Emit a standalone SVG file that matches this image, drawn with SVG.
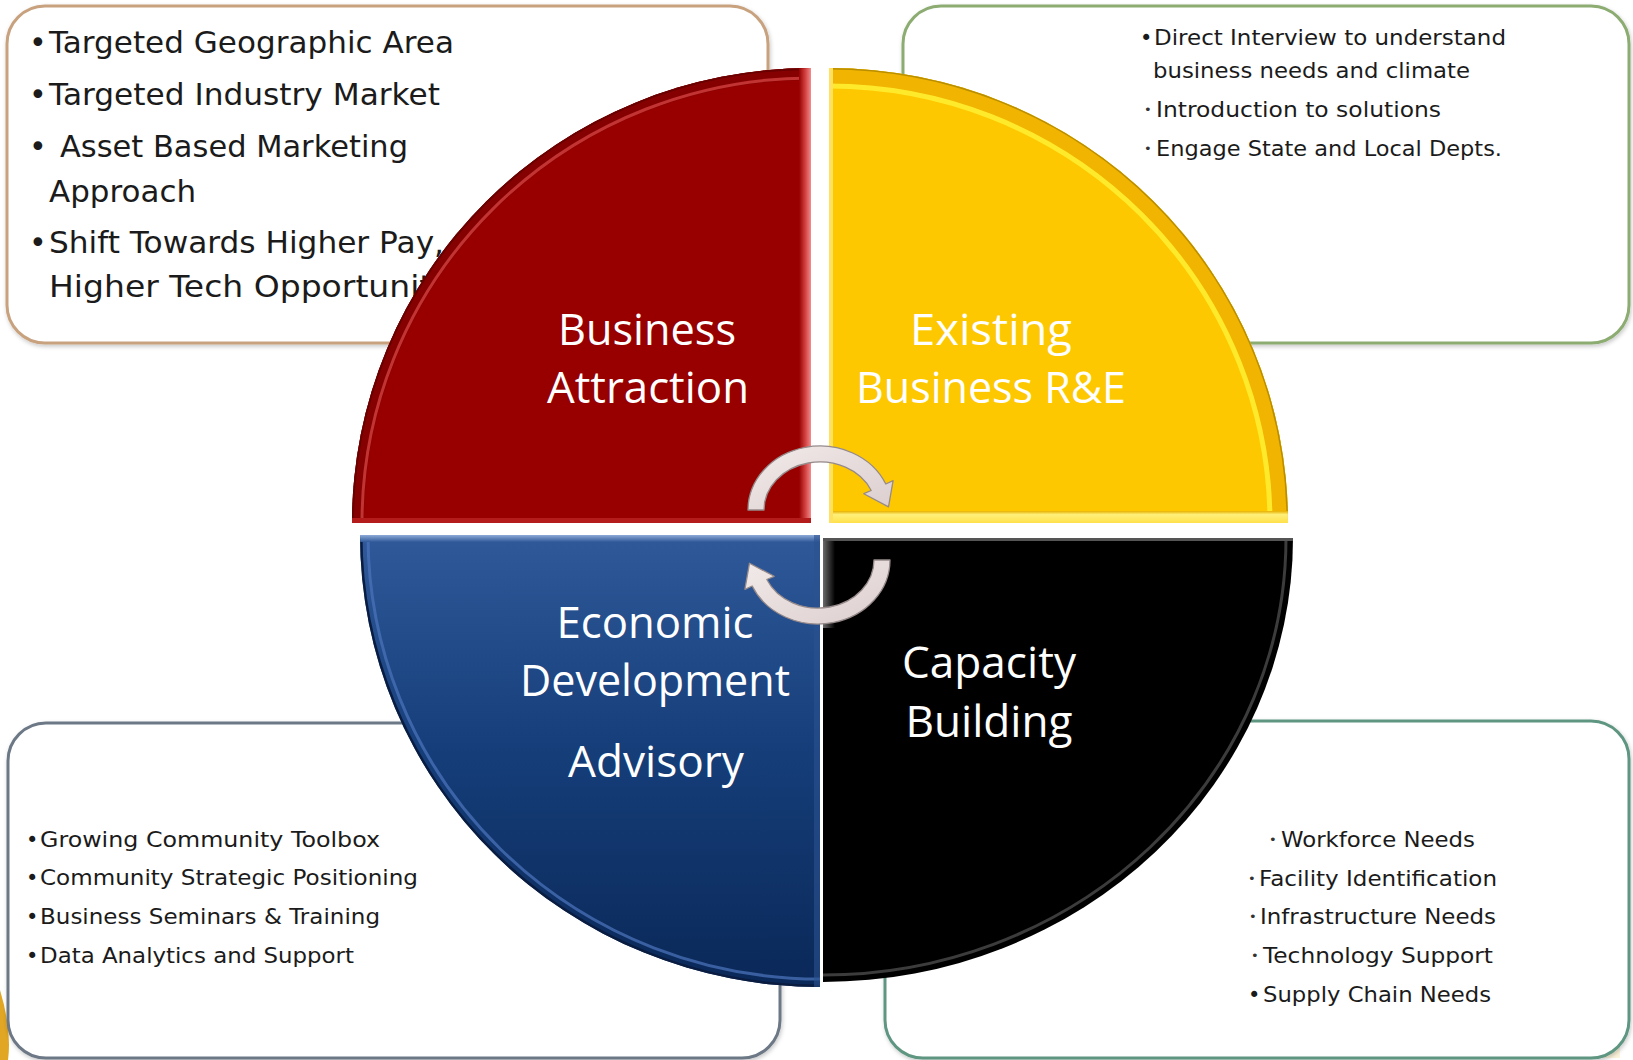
<svg xmlns="http://www.w3.org/2000/svg" width="1633" height="1060" viewBox="0 0 1633 1060">
  <defs>
    <style>
      .box { fill: #ffffff; stroke-width: 3; filter: url(#soft); }
      .item { font-family: "DejaVu Sans", "Liberation Sans", sans-serif; fill: #1b1b1b; }
      .big { font-size: 30px; }
      .small { font-size: 21px; }
      .dot { font-family: "DejaVu Sans", "Liberation Sans", sans-serif; fill: #333; font-size: 13px; }
      .label { font-family: "Open Sans", "Noto Sans", sans-serif; font-size: 44px; fill: #ffffff; text-anchor: middle; }
      .arrow { fill: url(#arrowFill); stroke: #968a8a; stroke-width: 1.3; stroke-linejoin: round; }
    </style>

    <filter id="soft" x="-5%" y="-5%" width="110%" height="110%">
      <feDropShadow dx="1" dy="2" stdDeviation="2" flood-color="#000" flood-opacity="0.22"/>
    </filter>

    <!-- quarter shapes -->
    <path id="qRed" d="M811,523 L352,523 A459 455 0 0 1 811,68 Z"/>
    <path id="qYellow" d="M829,523 L829,68 A459 455 0 0 1 1288,523 Z"/>
    <path id="qBlue" d="M820,535 L820,987 A460 452 0 0 1 360,535 Z"/>
    <path id="qBlack" d="M823,538 L1293,538 A470 444 0 0 1 823,982 Z"/>

    <clipPath id="cRed"><use href="#qRed"/></clipPath>
    <clipPath id="cYellow"><use href="#qYellow"/></clipPath>
    <clipPath id="cBlue"><use href="#qBlue"/></clipPath>
    <clipPath id="cBlack"><use href="#qBlack"/></clipPath>

    <linearGradient id="redEdge" x1="0" y1="0" x2="1" y2="0">
      <stop offset="0" stop-color="#980000"/>
      <stop offset="0.55" stop-color="#d44444"/>
      <stop offset="1" stop-color="#f28c8c"/>
    </linearGradient>
    <linearGradient id="blueFill" x1="0" y1="0" x2="0" y2="1">
      <stop offset="0" stop-color="#30599a"/>
      <stop offset="0.45" stop-color="#163f7b"/>
      <stop offset="1" stop-color="#0a2858"/>
    </linearGradient>
    <linearGradient id="blueTop" x1="0" y1="0" x2="0" y2="1">
      <stop offset="0" stop-color="#8eaad8"/>
      <stop offset="1" stop-color="#30599a"/>
    </linearGradient>
    <linearGradient id="yellowBottom" x1="0" y1="0" x2="0" y2="1">
      <stop offset="0" stop-color="#e6b000"/>
      <stop offset="0.3" stop-color="#fff07a"/>
      <stop offset="1" stop-color="#ffe04a"/>
    </linearGradient>
    <linearGradient id="blackEdge" x1="0" y1="0" x2="1" y2="0">
      <stop offset="0" stop-color="#6a6a6a"/>
      <stop offset="1" stop-color="#000000"/>
    </linearGradient>
    <linearGradient id="arrowFill" x1="0" y1="0" x2="1" y2="1">
      <stop offset="0" stop-color="#f2eaea"/>
      <stop offset="1" stop-color="#dccece"/>
    </linearGradient>
  </defs>

  <rect width="1633" height="1060" fill="#ffffff"/>

  <!-- slide remnants in the lower corners -->
  <path d="M0,990 Q12,1030 8,1060 L0,1060 Z" fill="#e0a624"/>
  <path d="M12,1000 L240,1050 L240,1058 L12,1010 Z" fill="#e6e6ea" opacity="0.8"/>
  <rect x="1516" y="1004" width="104" height="54" fill="#fdf4dc"/>

  <!-- text boxes -->
  <g id="box-attraction">
    <rect class="box" x="7" y="6" width="761" height="337" rx="38" stroke="#c8a27e"/>
    <text class="item big" x="29" y="53">•</text>
    <text class="item big" x="49" y="53" textLength="405" lengthAdjust="spacingAndGlyphs">Targeted Geographic Area</text>
    <text class="item big" x="29" y="105">•</text>
    <text class="item big" x="49" y="105" textLength="391" lengthAdjust="spacingAndGlyphs">Targeted Industry Market</text>
    <text class="item big" x="29" y="157">•</text>
    <text class="item big" x="60" y="157" textLength="348" lengthAdjust="spacingAndGlyphs">Asset Based Marketing</text>
    <text class="item big" x="49" y="202" textLength="147" lengthAdjust="spacingAndGlyphs">Approach</text>
    <text class="item big" x="29" y="253">•</text>
    <text class="item big" x="49" y="253" textLength="395" lengthAdjust="spacingAndGlyphs">Shift Towards Higher Pay,</text>
    <text class="item big" x="49" y="297" textLength="430" lengthAdjust="spacingAndGlyphs">Higher Tech Opportunities</text>
  </g>

  <g id="box-retention">
    <rect class="box" x="903" y="6" width="726" height="337" rx="38" stroke="#8cac72"/>
    <text class="item small" x="1140" y="45">•</text>
    <text class="item small" x="1154" y="45" textLength="352" lengthAdjust="spacingAndGlyphs">Direct Interview to understand</text>
    <text class="item small" x="1153" y="78" textLength="317" lengthAdjust="spacingAndGlyphs">business needs and climate</text>
    <text class="dot" x="1144" y="114">•</text>
    <text class="item small" x="1156" y="117" textLength="285" lengthAdjust="spacingAndGlyphs">Introduction to solutions</text>
    <text class="dot" x="1144" y="153">•</text>
    <text class="item small" x="1156" y="156" textLength="346" lengthAdjust="spacingAndGlyphs">Engage State and Local Depts.</text>
  </g>

  <g id="box-advisory">
    <rect class="box" x="8" y="723" width="772" height="335" rx="38" stroke="#6d7886"/>
    <text class="item small" x="26" y="847">•</text>
    <text class="item small" x="40" y="847" textLength="340" lengthAdjust="spacingAndGlyphs">Growing Community Toolbox</text>
    <text class="item small" x="26" y="885">•</text>
    <text class="item small" x="40" y="885" textLength="378" lengthAdjust="spacingAndGlyphs">Community Strategic Positioning</text>
    <text class="item small" x="26" y="924">•</text>
    <text class="item small" x="40" y="924" textLength="340" lengthAdjust="spacingAndGlyphs">Business Seminars &amp; Training</text>
    <text class="item small" x="26" y="963">•</text>
    <text class="item small" x="40" y="963" textLength="314" lengthAdjust="spacingAndGlyphs">Data Analytics and Support</text>
  </g>

  <g id="box-capacity">
    <rect class="box" x="885" y="721" width="744" height="337" rx="38" stroke="#5f9682"/>
    <text class="dot" x="1269" y="844">•</text>
    <text class="item small" x="1281" y="847" textLength="194" lengthAdjust="spacingAndGlyphs">Workforce Needs</text>
    <text class="dot" x="1248" y="883">•</text>
    <text class="item small" x="1259" y="886" textLength="238" lengthAdjust="spacingAndGlyphs">Facility Identification</text>
    <text class="dot" x="1249" y="921">•</text>
    <text class="item small" x="1260" y="924" textLength="236" lengthAdjust="spacingAndGlyphs">Infrastructure Needs</text>
    <text class="dot" x="1251" y="960">•</text>
    <text class="item small" x="1263" y="963" textLength="230" lengthAdjust="spacingAndGlyphs">Technology Support</text>
    <text class="item small" x="1248" y="1002">•</text>
    <text class="item small" x="1263" y="1002" textLength="228" lengthAdjust="spacingAndGlyphs">Supply Chain Needs</text>
  </g>

  <!-- the four quarters of the cycle -->
  <g id="business-attraction">
    <use href="#qRed" fill="#980000"/>
    <g clip-path="url(#cRed)" fill="none">
      <ellipse cx="811" cy="523" rx="459" ry="455" stroke="#850000" stroke-width="24"/>
      <ellipse cx="811" cy="523" rx="449" ry="445" stroke="#cc3c3c" stroke-width="3" opacity="0.85"/>
      <ellipse cx="811" cy="523" rx="459" ry="455" stroke="#680000" stroke-width="4"/>
      <rect x="799" y="60" width="12" height="470" fill="url(#redEdge)"/>
      <rect x="352" y="518" width="460" height="5" fill="#b41c1c"/>
    </g>
    <text class="label" x="647" y="345" textLength="178" lengthAdjust="spacingAndGlyphs">Business</text>
    <text class="label" x="648" y="403" textLength="202" lengthAdjust="spacingAndGlyphs">Attraction</text>
  </g>

  <g id="existing-business">
    <use href="#qYellow" fill="#fdc800"/>
    <g clip-path="url(#cYellow)" fill="none">
      <ellipse cx="829" cy="523" rx="459" ry="455" stroke="#f1b400" stroke-width="40"/>
      <ellipse cx="829" cy="523" rx="441" ry="437" stroke="#fff030" stroke-width="5" opacity="0.9"/>
      <ellipse cx="829" cy="523" rx="459" ry="455" stroke="#b88e00" stroke-width="3"/>
      <rect x="829" y="511" width="460" height="12" fill="url(#yellowBottom)"/>
      <rect x="829" y="60" width="4" height="463" fill="#ffe060"/>
    </g>
    <text class="label" x="991" y="345" textLength="162" lengthAdjust="spacingAndGlyphs">Existing</text>
    <text class="label" x="991" y="403" textLength="270" lengthAdjust="spacingAndGlyphs">Business R&amp;E</text>
  </g>

  <g id="economic-development">
    <use href="#qBlue" fill="url(#blueFill)"/>
    <g clip-path="url(#cBlue)" fill="none">
      <ellipse cx="820" cy="535" rx="452" ry="444" stroke="#4a72b8" stroke-width="3" opacity="0.75"/>
      <ellipse cx="820" cy="535" rx="460" ry="452" stroke="#0a1c40" stroke-width="5"/>
      <rect x="355" y="535" width="470" height="7" fill="url(#blueTop)"/>
      <rect x="814" y="535" width="6" height="455" fill="#2c5290" opacity="0.6"/>
    </g>
    <text class="label" x="655" y="638" textLength="197" lengthAdjust="spacingAndGlyphs">Economic</text>
    <text class="label" x="655" y="696" textLength="270" lengthAdjust="spacingAndGlyphs">Development</text>
    <text class="label" x="656" y="777" textLength="176" lengthAdjust="spacingAndGlyphs">Advisory</text>
  </g>

  <g id="capacity-building">
    <use href="#qBlack" fill="#000000"/>
    <g clip-path="url(#cBlack)" fill="none">
      <ellipse cx="823" cy="538" rx="463" ry="437" stroke="#3c3c3c" stroke-width="3"/>
      <rect x="823" y="538" width="12" height="90" fill="url(#blackEdge)"/>
      <rect x="823" y="538" width="472" height="3" fill="#555"/>
    </g>
    <text class="label" x="989" y="678" textLength="174" lengthAdjust="spacingAndGlyphs">Capacity</text>
    <text class="label" x="989" y="737" textLength="167" lengthAdjust="spacingAndGlyphs">Building</text>
  </g>

  <!-- cycle arrows -->
  <g id="connectors">
    <path class="arrow" d="M748,510 A72 64 0 0 1 885.8,484 L893.1,480.7 L888.5,506.9 L863.8,493.7 L871.2,490.5 A56 48 0 0 0 764,510 Z"/>
    <path class="arrow" d="M890,560 A72 64 0 0 1 752.2,586 L744.9,589.3 L749.5,563.2 L774.2,576.3 L766.8,579.5 A56 48 0 0 0 874,560 Z"/>
  </g>
</svg>
